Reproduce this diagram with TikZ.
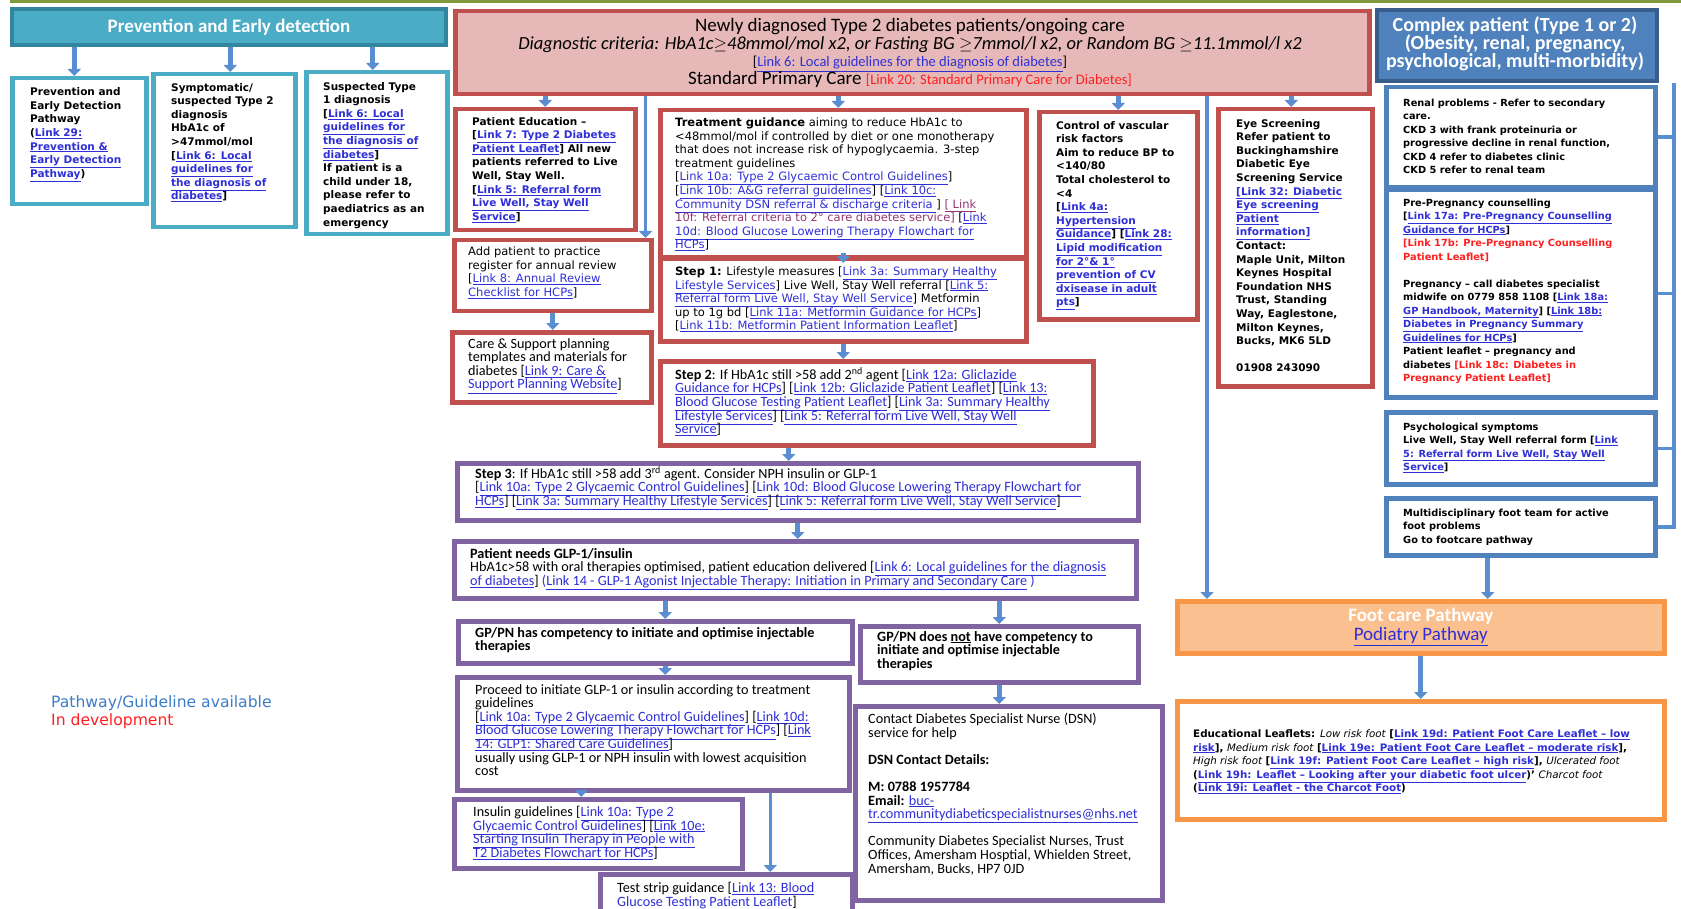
\documentclass[tikz,border=0pt]{standalone}
\usepackage{fontspec}
\setmainfont{Carlito}
\newfontfamily\vfont{DejaVu Sans}
\usetikzlibrary{arrows.meta}

\definecolor{tealc}{HTML}{4BACC6}
\definecolor{tealdk}{HTML}{31859C}
\definecolor{redc}{HTML}{C0504D}
\definecolor{pinkc}{HTML}{E6B9B8}
\definecolor{purc}{HTML}{8064A2}
\definecolor{bluec}{HTML}{4F81BD}
\definecolor{bluedk}{HTML}{385D8A}
\definecolor{orc}{HTML}{F79646}
\definecolor{orfill}{HTML}{FAC090}
\definecolor{linkc}{HTML}{2F2FD8}
\definecolor{devc}{HTML}{FF1F1F}
\definecolor{plink}{HTML}{943672}
\definecolor{arrc}{HTML}{5B8ED0}
\definecolor{olivec}{HTML}{7F9A3A}
\definecolor{legblue}{HTML}{3D7CC9}

% links and "in development" text
\newcommand{\lk}[1]{{\color{linkc}\underline{#1}}}
\newcommand{\dv}[1]{{\color{devc}#1}}
\newcommand{\pl}[1]{{\color{plink}#1}}
\newcommand{\tight}{\lineskiplimit=-50pt\relax}

\tikzset{
  boxframe/.style={draw, line width=4.5pt, fill=white, anchor=north west, inner sep=0pt},
  tealframe/.style={boxframe, draw=tealc},
  redframe/.style={boxframe, draw=redc},
  purframe/.style={boxframe, draw=purc},
  blueframe/.style={boxframe, draw=bluec},
  orframe/.style={boxframe, draw=orc},
  vtxt/.style={anchor=north west, align=left, inner sep=0pt, font=\vfont\fontsize{10.5}{13.6}\selectfont\bfseries\tight},
  vtxtr/.style={anchor=north west, align=left, inner sep=0pt, font=\vfont\fontsize{11.5}{13.6}\selectfont\tight},
  rtxt/.style={anchor=north west, align=left, inner sep=0pt, font=\vfont\fontsize{9.8}{13.5}\selectfont\bfseries\tight},
  ltxt/.style={anchor=north west, align=left, inner sep=0pt, font=\vfont\fontsize{10.3}{13.6}\selectfont\bfseries\tight},
  ctxt/.style={anchor=north west, align=left, inner sep=0pt, font=\fontsize{14.2}{13.6}\selectfont\tight},
  barrow/.style={draw=arrc, line width=5pt, -{Triangle[width=13pt,length=7pt]}},
  bline/.style={draw=arrc, line width=3.5pt},
}

\begin{document}
\begin{tikzpicture}[x=1pt,y=-1pt]
\useasboundingbox (0,0) rectangle (1681,909);
\clip (0,0) rectangle (1681,909);
\fill[white] (0,0) rectangle (1681,909);
\draw[olivec, line width=3pt] (10,1.5) -- (1681,1.5);

% prevention column
\node[boxframe, draw=tealdk, fill=tealc, line width=4pt, minimum width=434, minimum height=36] (lhead) at (10,7) {};
\node[text=white, font=\fontsize{19}{20}\selectfont\bfseries] (lhead-t) at (lhead.center) {Prevention and Early detection};
\node[tealframe, minimum width=134, minimum height=126] (prev) at (10,76) {};
\node[tealframe, minimum width=142, minimum height=153] (symp) at (151,72) {};
\node[tealframe, minimum width=141, minimum height=162] (type1) at (304,70) {};
\node[vtxt] (prev-t) at (30,87.5) {Prevention and\\Early Detection\\Pathway\\(\lk{Link 29:}\\\lk{Prevention \&}\\\lk{Early Detection}\\\lk{Pathway})};
\node[vtxt] (symp-t) at (171,83) {Symptomatic/\\suspected Type 2\\diagnosis\\HbA1c of\\>47mmol/mol\\{}[\lk{Link 6: Local}\\\lk{guidelines for}\\\lk{the diagnosis of}\\\lk{diabetes}]};
\node[vtxt] (type1-t) at (323,82) {Suspected Type\\1 diagnosis\\{}[\lk{Link 6: Local}\\\lk{guidelines for}\\\lk{the diagnosis of}\\\lk{diabetes}]\\If patient is a\\child under 18,\\please refer to\\paediatrics as an\\emergency};
\coordinate (la) at ([xshift=-5pt]prev.north);
\coordinate (lb) at ([xshift=6pt]symp.north);
\coordinate (lc) at ([xshift=-4pt]type1.north);
\draw[barrow] (la |- lhead.south) -- (la);
\draw[barrow] (lb |- lhead.south) -- (lb);
\draw[barrow] (lc |- lhead.south) -- (lc);

% standard primary care
\node[boxframe, draw=redc, fill=pinkc, minimum width=914, minimum height=83] (chead) at (453,9) {};
\node[anchor=north, align=center, inner sep=0pt, font=\fontsize{19}{17.5}\selectfont\tight] (chead-t) at (910,18.5) {Newly diagnosed Type 2 diabetes patients/ongoing care\\
{\itshape\fontsize{18.5}{17.5}\selectfont Diagnostic criteria: HbA1c$\geq$48mmol/mol x2, or Fasting BG $\geq$7mmol/l x2, or Random BG $\geq$11.1mmol/l x2}\\
{\fontsize{14.5}{17.5}\selectfont [\lk{Link 6: Local guidelines for the diagnosis of diabetes}]}\\
Standard Primary Care {\fontsize{14.5}{17.5}\selectfont\dv{[Link 20: Standard Primary Care for Diabetes]}}};

\node[redframe, minimum width=180, minimum height=121] (edu) at (453,107) {};
\node[redframe, minimum width=197, minimum height=71] (addp) at (452,238) {};
\node[redframe, minimum width=199, minimum height=70] (care) at (450,330) {};
\node[redframe, minimum width=366, minimum height=147] (treat) at (658,108) {};
\node[redframe, minimum width=366, minimum height=82] (step1) at (658,257) {};
\node[redframe, minimum width=433, minimum height=84] (step2) at (658,359) {};
\node[redframe, minimum width=158, minimum height=207] (vasc) at (1037,110) {};
\node[redframe, minimum width=154, minimum height=277] (eye) at (1216,107) {};

\node[vtxt] (edu-t) at (472,117) {Patient Education –\\{}[\lk{Link 7: Type 2 Diabetes}\\\lk{Patient Leaflet}] All new\\patients referred to Live\\Well, Stay Well.\\{}[\lk{Link 5: Referral form}\\\lk{Live Well, Stay Well}\\\lk{Service}]};
\node[vtxtr] (addp-t) at (468,246.5) {Add patient to practice\\register for annual review\\{}[\lk{Link 8: Annual Review}\\\lk{Checklist for HCPs}]};
\node[ctxt] (care-t) at (468,338) {Care \& Support planning\\templates and materials for\\diabetes [\lk{Link 9: Care \&}\\\lk{Support Planning Website}]};
\node[vtxtr] (treat-t) at (675,117.5) {\textbf{Treatment guidance} aiming to reduce HbA1c to\\
<48mmol/mol if controlled by diet or one monotherapy\\
that does not increase risk of hypoglycaemia. 3-step\\
treatment guidelines\\
{}[\lk{Link 10a: Type 2 Glycaemic Control Guidelines}]\\
{}[\lk{Link 10b: A\&G referral guidelines}] [\lk{Link 10c:}\\
\lk{Community DSN referral \& discharge criteria }] \pl{\underline{[ Link}}\\
\pl{10f: Referral criteria to 2° care diabetes service]}  [\lk{Link}\\
\lk{10d: Blood Glucose Lowering Therapy Flowchart for}\\
\lk{HCPs}]};
\node[vtxtr] (step1-t) at (675,266.5) {\textbf{Step 1:} Lifestyle measures [\lk{Link 3a: Summary Healthy}\\
\lk{Lifestyle Services}] Live Well, Stay Well referral [\lk{Link 5:}\\
\lk{Referral form Live Well, Stay Well Service}] Metformin\\
up to 1g bd [\lk{Link 11a: Metformin Guidance for HCPs}]\\
{}[\lk{Link 11b: Metformin Patient Information Leaflet}]};
\node[ctxt] (step2-t) at (675,367) {\textbf{Step 2}: If HbA1c still >58 add 2\textsuperscript{nd} agent [\lk{Link 12a: Gliclazide}\\
\lk{Guidance for HCPs}]  [\lk{Link 12b: Gliclazide Patient Leaflet}]  [\lk{Link 13:}\\
\lk{Blood Glucose Testing Patient Leaflet}] [\lk{Link 3a: Summary Healthy}\\
\lk{Lifestyle Services}] [\lk{Link 5: Referral form Live Well, Stay Well}\\
\lk{Service}]};
\node[vtxt] (vasc-t) at (1056,121) {Control of vascular\\risk factors\\Aim to reduce BP to\\<140/80\\Total cholesterol to\\<4\\{}[\lk{Link 4a:}\\\lk{Hypertension}\\\lk{Guidance}] [\lk{Link 28:}\\\lk{Lipid modification}\\\lk{for 2°\& 1°}\\\lk{prevention of CV}\\\lk{dxisease in adult}\\\lk{pts}]};
\node[vtxt] (eye-t) at (1236,119) {Eye Screening\\Refer patient to\\Buckinghamshire\\Diabetic Eye\\Screening Service\\\lk{[Link 32: Diabetic}\\\lk{Eye screening}\\\lk{Patient}\\\lk{information]}\\Contact:\\Maple Unit, Milton\\Keynes Hospital\\Foundation NHS\\Trust, Standing\\Way, Eaglestone,\\Milton Keynes,\\Bucks, MK6 5LD\\[13.6pt]01908 243090};

\coordinate (cx) at ([xshift=-8pt]addp.north east);
\coordinate (ct) at ([xshift=-5pt]treat.north);
\coordinate (ce) at ([xshift=-4pt]eye.north);
\draw[barrow, line width=3.5pt] (cx |- chead.south) -- (cx);
\draw[barrow] (chead.south -| edu.north) -- (edu.north);
\draw[barrow] (ct |- chead.south) -- (ct);
\draw[barrow] (chead.south -| vasc.north) -- (vasc.north);
\draw[barrow] (ce |- chead.south) -- (ce);
\draw[barrow] (addp.south) -- (addp.south |- care.north);
\draw[barrow] ([yshift=6pt]treat.south) -- ([yshift=-6pt]step1.north);
\draw[barrow] (step1.south) -- (step1.south |- step2.north);

% injectable therapy
\node[purframe, minimum width=681, minimum height=57] (step3) at (455,461) {};
\node[purframe, minimum width=682, minimum height=57] (glp) at (452,539) {};
\node[purframe, minimum width=394, minimum height=42] (hasc) at (456,619) {};
\node[purframe, minimum width=278, minimum height=56] (notc) at (858,624) {};
\node[purframe, minimum width=392, minimum height=113] (proc) at (455,675) {};
\node[purframe, minimum width=307, minimum height=194] (dsn) at (853,704) {};
\node[purframe, minimum width=288, minimum height=69] (insl) at (452,797) {};
\node[purframe, minimum width=252, minimum height=53] (strip) at (598,872) {};

\node[ctxt] (step3-t) at (475,466) {\textbf{Step 3}:  If HbA1c still >58 add 3\textsuperscript{rd} agent. Consider NPH insulin or GLP-1\\
{}[\lk{Link 10a: Type 2 Glycaemic Control Guidelines}] [\lk{Link 10d: Blood Glucose Lowering Therapy Flowchart for}\\
\lk{HCPs}] [\lk{Link 3a: Summary Healthy Lifestyle Services}] [\lk{Link 5: Referral form Live Well, Stay Well Service}]};
\node[ctxt] (glp-t) at (470,548) {\textbf{Patient needs GLP-1/insulin}\\
HbA1c>58 with oral therapies optimised, patient education delivered [\lk{Link 6: Local guidelines for the diagnosis}\\
\lk{of diabetes}] {\color{linkc}(\underline{Link 14 - GLP-1 Agonist Injectable Therapy: Initiation in Primary and Secondary Care} )}};
\node[ctxt, font=\fontsize{14.2}{13.6}\selectfont\bfseries\tight] (hasc-t) at (475,627) {GP/PN has competency to initiate and optimise injectable\\therapies};
\node[ctxt, font=\fontsize{14.2}{13.6}\selectfont\bfseries\tight] (notc-t) at (877,631) {GP/PN does \underline{not} have competency to\\initiate and optimise injectable\\therapies};
\node[ctxt] (proc-t) at (475,684) {Proceed to initiate GLP-1 or insulin according to treatment\\guidelines\\
{}[\lk{Link 10a: Type 2 Glycaemic Control Guidelines}] [\lk{Link 10d:}\\
\lk{Blood Glucose Lowering Therapy Flowchart for HCPs}] [\lk{Link}\\
\lk{14: GLP1: Shared Care Guidelines}]\\
usually using GLP-1 or NPH insulin with lowest acquisition\\cost};
\node[ctxt] (dsn-t) at (868,713) {Contact Diabetes Specialist Nurse (DSN)\\service for help\\[13.6pt]
\textbf{DSN Contact Details:}\\[13.6pt]
\textbf{M: 0788 1957784}\\
\textbf{Email:} \lk{buc-}\\
\lk{tr.communitydiabeticspecialistnurses@nhs.net}\\[13.6pt]
Community Diabetes Specialist Nurses, Trust\\
Offices, Amersham Hosptial, Whielden Street,\\
Amersham, Bucks, HP7 0JD};
\node[ctxt] (insl-t) at (473,806) {Insulin guidelines [\lk{Link 10a: Type 2}\\\lk{Glycaemic Control Guidelines}] [\lk{Link 10e:}\\\lk{Starting Insulin Therapy in People with}\\\lk{T2 Diabetes Flowchart for HCPs}]};
\node[ctxt] (strip-t) at (617,882) {Test strip guidance [\lk{Link 13: Blood}\\\lk{Glucose Testing Patient Leaflet}]};

\coordinate (s3) at ([xshift=-9pt]step3.north);
\coordinate (hc) at ([xshift=10pt]hasc.north);
\draw[barrow] (s3 |- step2.south) -- (s3);
\draw[barrow] (step3.south) -- (step3.south |- glp.north);
\draw[barrow] (hc |- glp.south) -- (hc);
\draw[barrow] (glp.south -| notc.north) -- (notc.north);
\draw[barrow] (hc |- hasc.south) -- (hc |- proc.north);
\draw[barrow] (notc.south) -- (notc.south |- dsn.north);
\coordinate (pa) at ([xshift=-17pt]insl.north);
\draw[barrow] (pa |- proc.south) -- (pa);
\coordinate (sa) at ([xshift=44pt]strip.north);
\draw[barrow, line width=3.5pt] (sa |- proc.south) -- (sa);

% complex patient
\node[boxframe, draw=bluedk, fill=bluec, line width=4pt, minimum width=280, minimum height=71] (rhead) at (1375,8) {};
\node[anchor=north, align=center, inner sep=0pt, text=white, font=\fontsize{20}{18}\selectfont\bfseries\tight] (rhead-t) at (1515,16) {Complex patient (Type 1 or 2)\\(Obesity, renal, pregnancy,\\psychological, multi-morbidity)};
\node[blueframe, minimum width=269, minimum height=100] (renal) at (1384,85) {};
\node[blueframe, minimum width=269, minimum height=207] (preg) at (1384,188) {};
\node[blueframe, minimum width=269, minimum height=72] (psych) at (1384,410) {};
\node[blueframe, minimum width=269, minimum height=57] (foot) at (1384,496) {};
\node[rtxt] (renal-t) at (1403,98.5) {Renal problems  - Refer to secondary\\care.\\CKD 3  with frank proteinuria or\\progressive decline in renal function,\\CKD 4 refer to diabetes clinic\\CKD 5 refer to renal team};
\node[rtxt] (preg-t) at (1403,198.5) {Pre-Pregnancy counselling\\{}[\lk{Link 17a: Pre-Pregnancy Counselling}\\\lk{Guidance for HCPs}]\\\dv{[Link 17b: Pre-Pregnancy Counselling}\\\dv{Patient Leaflet]}\\[13.5pt]
Pregnancy – call diabetes specialist\\midwife on  0779 858 1108 [\lk{Link  18a:}\\\lk{GP Handbook, Maternity}] [\lk{Link 18b:}\\\lk{Diabetes in Pregnancy Summary}\\\lk{Guidelines for HCPs}]\\
Patient leaflet – pregnancy and\\diabetes \dv{[Link 18c: Diabetes in}\\\dv{Pregnancy Patient Leaflet]}};
\node[rtxt] (psych-t) at (1403,422.5) {Psychological symptoms\\Live Well, Stay Well referral form [\lk{Link}\\\lk{5: Referral form Live Well, Stay Well}\\\lk{Service}]};
\node[rtxt] (foot-t) at (1403,508.5) {Multidisciplinary foot team for active\\foot problems\\Go to footcare pathway};
\coordinate (rb) at ([xshift=15pt]rhead.south east);
\draw[bline] (rb) |- (foot.east);
\draw[bline] (renal.east) -- (renal.east -| rb);
\draw[bline] (preg.east) -- (preg.east -| rb);
\draw[bline] (psych.east) -- (psych.east -| rb);

% foot care
\node[boxframe, draw=orc, fill=orfill, minimum width=487, minimum height=52] (fcp) at (1175,599) {};
\node[align=center, inner sep=0pt, font=\fontsize{19}{19}\selectfont\tight] (fcp-t) at (fcp.center) {{\color{white}\bfseries Foot care Pathway}\\\lk{Podiatry Pathway}};
\node[orframe, minimum width=487, minimum height=118] (leaf) at (1175,699) {};
\node[ltxt] (leaf-t) at (1193,729.5) {Educational Leaflets: {\mdseries\itshape Low risk foot} [\lk{Link 19d: Patient Foot Care Leaflet – low}\\
\lk{risk}], {\mdseries\itshape Medium risk foot} [\lk{Link 19e: Patient Foot Care Leaflet – moderate risk}],\\
{\mdseries\itshape High risk foot} [\lk{Link 19f: Patient Foot Care Leaflet – high risk}], {\mdseries\itshape Ulcerated foot}\\
(\lk{Link 19h: Leaflet – Looking after your  diabetic foot ulcer})’ {\mdseries\itshape Charcot foot}\\
(\lk{Link 19i: Leaflet  - the Charcot Foot})};
\coordinate (fx) at ([xshift=32pt]fcp.north west);
\draw[barrow, line width=3.5pt] (fx |- chead.south) -- (fx);
\coordinate (fa) at ([xshift=-33pt]foot.south);
\draw[barrow] (fa) -- (fa |- fcp.north);
\draw[barrow] (fcp.south) -- (fcp.south |- leaf.north);

% legend
\node[anchor=north west, align=left, inner sep=0pt, font=\vfont\fontsize{15.6}{18}\selectfont\tight] (legend) at (51,695) {{\color{legblue}Pathway/Guideline available}\\{\color{devc}In development}};
\end{tikzpicture}
\end{document}
